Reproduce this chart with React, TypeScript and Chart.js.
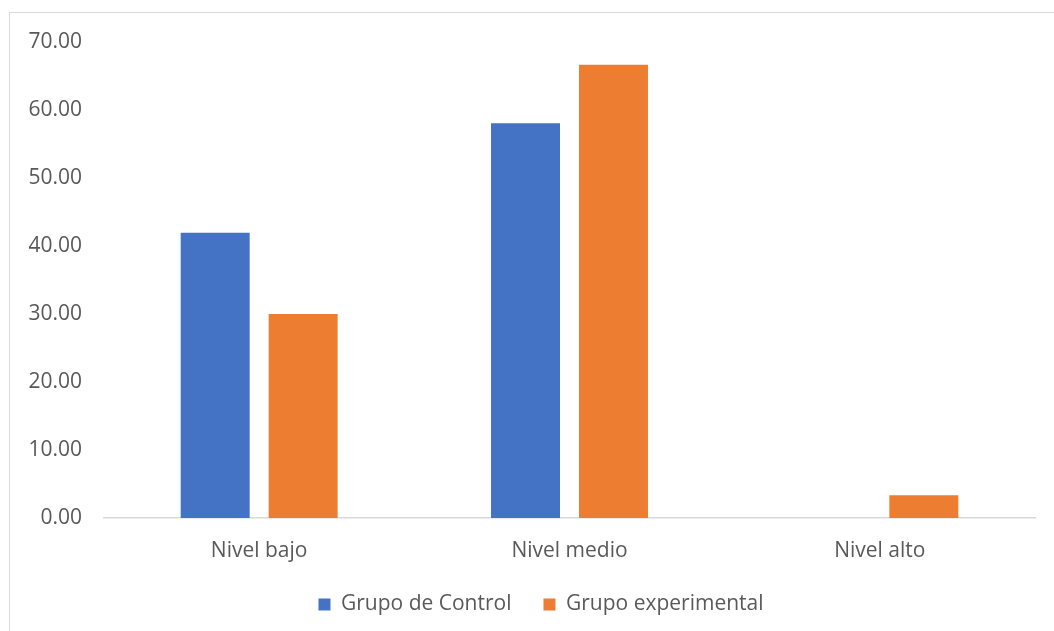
import React, { useEffect, useRef } from "react";
import { Chart, registerables } from "chart.js";

Chart.register(...registerables);

const categories = ["Nivel bajo", "Nivel medio", "Nivel alto"];
const controlValues = [41.94, 58.06, 0];
const experimentalValues = [30.0, 66.67, 3.33];
const seriesNames = ["Grupo de Control", "Grupo experimental"];
const yTicks = [0, 10, 20, 30, 40, 50, 60, 70];

const FONT = "'Open Sans', 'Noto Sans', sans-serif";
const TEXT = "#595959";

const framePlugin = {
  id: "frame",
  beforeDraw(chart: any) {
    const ctx = chart.ctx;
    ctx.save();
    ctx.fillStyle = "#ffffff";
    ctx.fillRect(0, 0, chart.width, chart.height);
    ctx.strokeStyle = "#d9d9d9";
    ctx.lineWidth = 1;
    ctx.strokeRect(9.5, 12.5, 3000, 3000);
    ctx.restore();
  },
  afterLayout(chart: any) {
    const l = chart.legend;
    if (l) {
      l.left += 47;
      l.width -= 47;
    }
  },
};

export default function App() {
  const ref = useRef<HTMLCanvasElement | null>(null);

  useEffect(() => {
    if (!ref.current) return;
    const chart = new Chart(ref.current, {
      type: "bar",
      data: {
        labels: categories,
        datasets: [
          {
            label: seriesNames[0],
            data: controlValues,
            backgroundColor: "#4472C4",
            categoryPercentage: 0.567,
            barPercentage: 0.784,
          },
          {
            label: seriesNames[1],
            data: experimentalValues,
            backgroundColor: "#ED7D31",
            categoryPercentage: 0.567,
            barPercentage: 0.784,
          },
        ],
      },
      options: {
        animation: false,
        responsive: true,
        maintainAspectRatio: false,
        layout: { padding: { left: 0, top: 42, right: 19, bottom: 6 } },
        plugins: {
          tooltip: { enabled: false },
          legend: {
            position: "bottom",
            labels: {
              font: { family: FONT, size: 21 },
              color: TEXT,
              boxWidth: 12,
              boxHeight: 12,
              padding: 32,
            },
          },
        },
        scales: {
          x: {
            grid: { display: false },
            border: { display: true, color: "#d9d9d9", width: 1.5 },
            ticks: { font: { family: FONT, size: 21 }, color: TEXT, padding: 12 },
            afterFit(scale: any) {
              scale.height = 44;
            },
          },
          y: {
            min: 0,
            max: 70,
            afterBuildTicks(scale: any) {
              scale.ticks = yTicks.map((v) => ({ value: v }));
            },
            grid: { display: false },
            border: { display: false },
            ticks: {
              font: { family: FONT, size: 21 },
              color: TEXT,
              padding: 14,
              callback: (v: any) => Number(v).toFixed(2),
            },
            afterFit(scale: any) {
              scale.width = 104;
            },
          },
        },
      },
      plugins: [framePlugin],
    });
    return () => chart.destroy();
  }, []);

  return (
    <div style={{ position: "absolute", left: 0, top: 0, width: 1054, height: 631 }}>
      <canvas ref={ref} />
    </div>
  );
}
